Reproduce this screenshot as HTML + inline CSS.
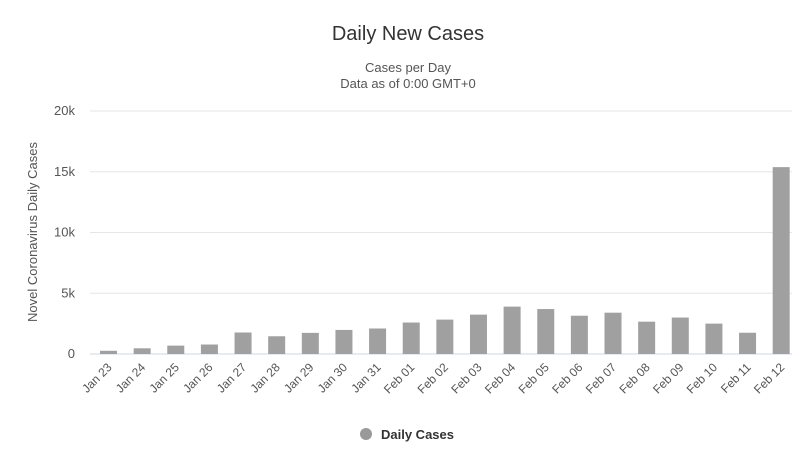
<!DOCTYPE html>
<html><head><meta charset="utf-8"><style>
body{margin:0;background:#fff;font-family:"Liberation Sans",sans-serif;}
svg text{font-family:"Liberation Sans",sans-serif;}
</style></head><body>
<svg width="800" height="458" xmlns="http://www.w3.org/2000/svg">
<text x="408" y="40" text-anchor="middle" font-size="20" fill="#333">Daily New Cases</text>
<text x="408" y="72" text-anchor="middle" font-size="13" fill="#555">Cases per Day</text>
<text x="408" y="88" text-anchor="middle" font-size="13" fill="#555">Data as of 0:00 GMT+0</text>
<text transform="translate(37,232) rotate(-90)" text-anchor="middle" font-size="13" fill="#555">Novel Coronavirus Daily Cases</text>
<g id="grid"></g><g id="bars"></g><g id="xl"></g>
<g>
<circle cx="366" cy="434" r="6" fill="#999"/>
<text x="381" y="439" font-size="13" font-weight="bold" fill="#333">Daily Cases</text>
</g>
</svg>
<script>
const categories=["Jan 23","Jan 24","Jan 25","Jan 26","Jan 27","Jan 28","Jan 29","Jan 30","Jan 31","Feb 01","Feb 02","Feb 03","Feb 04","Feb 05","Feb 06","Feb 07","Feb 08","Feb 09","Feb 10","Feb 11","Feb 12"];
const values=[265,470,690,780,1770,1460,1740,1980,2100,2590,2830,3240,3900,3700,3150,3400,2660,3000,2500,1750,15380];
const yTicks=[0,5000,10000,15000,20000];
const yTickLabels=["0","5k","10k","15k","20k"];
const NS="http://www.w3.org/2000/svg";
const x0=91.7,x1=798,yTop=111,yBot=354,yMax=20000;
const y=v=>yBot-(v/yMax)*(yBot-yTop);
const bw=(x1-x0)/categories.length;
const xc=i=>x0+bw*(i+0.5);
function mk(t,a,p){const e=document.createElementNS(NS,t);for(const k in a)e.setAttribute(k,a[k]);p.appendChild(e);return e;}
const g=document.getElementById('grid');
yTicks.forEach((t,i)=>{
 const l=mk('line',{x1:90,x2:792,y1:y(t),y2:y(t),stroke:i==0?'#ccd6eb':'#e6e6e6','stroke-width':1},g);
 
 
 const tx=mk('text',{x:75,y:y(t)+4,'text-anchor':'end','font-size':13,fill:'#555'},g);
 tx.textContent=yTickLabels[i];
 
 
});
const b=document.getElementById('bars');
values.forEach((v,i)=>{
 const r=mk('rect',{x:xc(i)-8.5,y:y(v),width:17,height:yBot-y(v),fill:'#a0a0a0'},b);
 
 
});
const xl=document.getElementById('xl');
categories.forEach((c,i)=>{
 const tx=mk('text',{transform:`translate(${xc(i)+4},${yBot+14}) rotate(-45)`,'text-anchor':'end','font-size':12,fill:'#555'},xl);
 tx.textContent=c;
 
 
});
</script>
</body></html>
